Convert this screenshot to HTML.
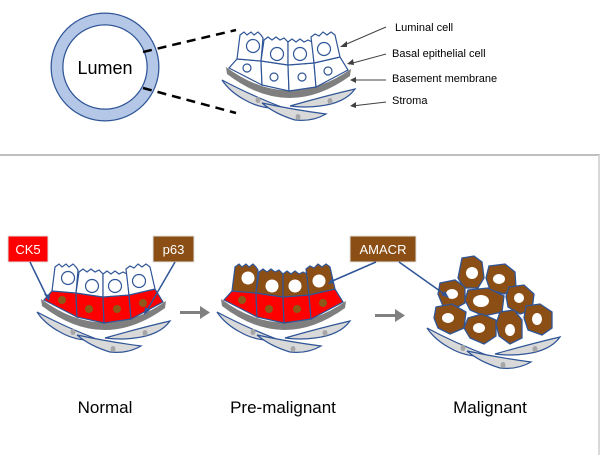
<!DOCTYPE html>
<html><head><style>
html,body{margin:0;padding:0;background:#fff;}
svg{display:block;}
text{font-family:"Liberation Sans",Arial,sans-serif;}
</style></head><body>
<svg width="600" height="455" viewBox="0 0 600 455" xmlns="http://www.w3.org/2000/svg">
<defs>
<g id="stroma" stroke="#2f5597" stroke-width="1.2" fill="#d9d9d9">
  <path d="M222,80 Q250,95 284,108 Q262,110 245,100 Q230,92 222,80 Z"/>
  <path d="M290,106 Q325,96 355,89 Q345,103 320,106 Q305,108 290,106 Z"/>
  <path d="M262,103 Q295,110 326,114 Q312,122 295,120 Q275,114 262,103 Z"/>
  <g fill="#a6a6a6" stroke="none">
    <ellipse cx="258" cy="100" rx="2.5" ry="3"/>
    <ellipse cx="330" cy="101" rx="2.5" ry="3"/>
    <ellipse cx="298" cy="117" rx="2.5" ry="3"/>
  </g>
</g>
<path id="membrane" d="M226,67 Q288,113 351,69 L350,76 Q288,121 227,74 Z" fill="#7f7f7f"/>
<g id="bas" stroke="#2f5597" stroke-width="1.2">
  <path d="M237,59 L261,61 L262,85 L229,68 Z"/>
  <path d="M261,61 L288,65 L289,91 L262,85 Z"/>
  <path d="M288,65 L314,63 L316,87 L289,91 Z"/>
  <path d="M314,63 L340,57 L348,70 L316,87 Z"/>
</g>
<g id="lum" stroke="#2f5597" stroke-width="1.2">
  <path d="M240,35 L244,32 L247,35 L251,32 L254,35 L258,32 L261,35 L263,38 L261,61 L237,59 Z"/>
  <path d="M264,40 L268,37 L272,40 L276,37 L280,40 L284,38 L288,42 L288,65 L261,61 Z"/>
  <path d="M288,42 L292,39 L296,42 L300,39 L304,42 L308,40 L312,42 L314,63 L288,65 Z"/>
  <path d="M311,37 L315,34 L319,36 L323,32 L327,35 L331,32 L335,35 L340,57 L314,63 Z"/>
</g>
<g id="lumN">
  <circle cx="253" cy="46" r="6.5"/><circle cx="277" cy="54" r="6.5"/>
  <circle cx="300" cy="54" r="6.5"/><circle cx="324" cy="49" r="6.5"/>
</g>
<g id="basN">
  <circle cx="247" cy="68" r="4"/><circle cx="274" cy="77" r="4"/>
  <circle cx="302" cy="77" r="4"/><circle cx="328" cy="71" r="4"/>
</g>
</defs>

<!-- TOP -->
<circle cx="105" cy="67" r="48" fill="none" stroke="#2f5597" stroke-width="13"/>
<circle cx="105" cy="67" r="48" fill="none" stroke="#b4c7e7" stroke-width="10.5"/>
<text x="105" y="74" font-size="18" text-anchor="middle" fill="#000">Lumen</text>
<line x1="143" y1="52" x2="236" y2="30" stroke="#000" stroke-width="2.5" stroke-dasharray="9,6"/>
<line x1="143" y1="88" x2="236" y2="113" stroke="#000" stroke-width="2.5" stroke-dasharray="9,6"/>

<g>
  <use href="#stroma"/>
  <use href="#membrane"/>
  <use href="#bas" fill="#fff"/>
  <use href="#lum" fill="#fff"/>
  <use href="#lumN" fill="#fff" stroke="#2f5597" stroke-width="1.2"/>
  <use href="#basN" fill="#fff" stroke="#2f5597" stroke-width="1.2"/>
</g>

<g font-size="11" fill="#000">
  <text x="395" y="31">Luminal cell</text>
  <text x="392" y="57">Basal epithelial cell</text>
  <text x="392" y="82">Basement membrane</text>
  <text x="392" y="104">Stroma</text>
</g>
<g stroke="#404040" stroke-width="1">
  <line x1="386" y1="27" x2="342" y2="46"/><line x1="386" y1="54" x2="349" y2="64"/>
  <line x1="386" y1="80" x2="352" y2="80"/><line x1="386" y1="102" x2="352" y2="106"/>
</g>
<g fill="#404040">
  <path d="M340,47 L347,41 L347,47 Z"/><path d="M347,64 L353,59 L354,65 Z"/>
  <path d="M350,80 L356,77 L356,83 Z"/><path d="M350,106 L356,102 L356,108 Z"/>
</g>

<!-- separator -->
<rect x="0" y="154" width="600" height="2" fill="#bfbfbf"/>
<rect x="598" y="155" width="2" height="300" fill="#d9d9d9"/>

<!-- Normal -->
<g transform="translate(-185,232)">
  <use href="#stroma"/>
  <use href="#membrane"/>
  <use href="#bas" fill="#ff0000"/>
  <use href="#lum" fill="#fff"/>
  <use href="#lumN" fill="#fff" stroke="#2f5597" stroke-width="1.2"/>
  <use href="#basN" fill="#8b5a1b"/>
</g>

<!-- Pre-malignant -->
<g transform="translate(-5,232)">
  <use href="#stroma"/>
  <use href="#membrane"/>
  <use href="#bas" fill="#ff0000"/>
  <use href="#lum" fill="#8b4f16"/>
  <use href="#lumN" fill="#fff"/>
  <use href="#basN" fill="#8b5a1b"/>
</g>

<!-- Malignant -->
<g transform="translate(205,248)"><use href="#stroma"/></g>
<g stroke="#2f5597" stroke-width="1.3" fill="#8b4f16">
  <path d="M462,258 L474,256 L482,262 L484,278 L478,288 L464,288 L458,278 L460,268 Z"/>
  <path d="M489,266 L505,264 L515,272 L516,288 L504,294 L490,290 L486,278 Z"/>
  <path d="M440,283 L455,280 L465,287 L465,303 L456,308 L443,306 L438,294 Z"/>
  <path d="M468,290 L488,288 L504,296 L502,312 L484,316 L470,310 L465,300 Z"/>
  <path d="M509,287 L524,285 L534,294 L532,310 L520,314 L508,307 L506,296 Z"/>
  <path d="M436,307 L452,304 L466,312 L464,328 L450,334 L438,328 L434,318 Z"/>
  <path d="M468,318 L482,314 L496,320 L496,336 L484,344 L470,338 L464,328 Z"/>
  <path d="M500,312 L514,310 L522,320 L522,338 L510,344 L499,336 L496,324 Z"/>
  <path d="M526,306 L540,304 L552,312 L552,328 L542,335 L528,330 L524,318 Z"/>
  <g fill="#fff" stroke="none">
    <ellipse cx="472" cy="273" rx="6" ry="6"/>
    <ellipse cx="499" cy="279" rx="6" ry="5"/>
    <ellipse cx="452" cy="294" rx="6" ry="5"/>
    <ellipse cx="481" cy="301" rx="8" ry="6"/>
    <ellipse cx="519" cy="298" rx="5" ry="5"/>
    <ellipse cx="448" cy="318" rx="6" ry="5"/>
    <ellipse cx="479" cy="328" rx="6" ry="5"/>
    <ellipse cx="510" cy="330" rx="5" ry="6"/>
    <ellipse cx="537" cy="319" rx="5" ry="6"/>
  </g>
</g>

<!-- markers -->
<rect x="8" y="236" width="40" height="26" fill="#ff0000" stroke="#e0e0e0"/>
<text x="28" y="254" font-size="13" fill="#fff" text-anchor="middle">CK5</text>
<rect x="153" y="236" width="41" height="26" fill="#8b4f16" stroke="#e0e0e0"/>
<text x="173.5" y="254" font-size="13" fill="#fff" text-anchor="middle">p63</text>
<rect x="350" y="236" width="66" height="26" fill="#8b4f16" stroke="#e0e0e0"/>
<text x="383" y="254" font-size="13" fill="#fff" text-anchor="middle">AMACR</text>
<g stroke="#2f5597" stroke-width="1.5" fill="none">
  <line x1="30" y1="262" x2="48" y2="299"/>
  <line x1="175" y1="262" x2="146" y2="312"/>
  <line x1="376" y1="262" x2="330" y2="282"/>
  <line x1="399" y1="262" x2="447" y2="296"/>
</g>
<g fill="#2f5597">
  <path d="M49,301 L44,294 L50,295 Z"/>
  <path d="M144,315 L145,307 L150,310 Z"/>
  <path d="M328,284 L332,278 L334,283 Z"/>
  <path d="M449,298 L441,295 L445,291 Z"/>
</g>

<!-- gray arrows -->
<g fill="#808080">
  <rect x="180" y="311" width="22" height="3"/><path d="M200,306 L210,312.5 L200,319 Z"/>
  <rect x="375" y="314" width="22" height="3"/><path d="M395,309 L405,315.5 L395,322 Z"/>
</g>

<g font-size="17" fill="#000" text-anchor="middle">
  <text x="105" y="413">Normal</text>
  <text x="283" y="413">Pre-malignant</text>
  <text x="490" y="413">Malignant</text>
</g>
</svg>
</body></html>
